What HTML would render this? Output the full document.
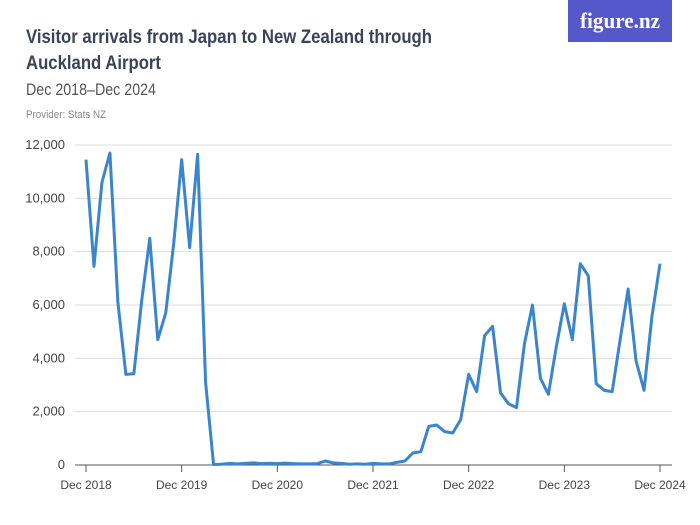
<!DOCTYPE html>
<html><head><meta charset="utf-8"><style>
html,body{margin:0;padding:0;background:#fff;}
svg{display:block;font-family:"Liberation Sans Narrow","Liberation Sans",sans-serif;}
</style></head><body>
<svg width="700" height="525" viewBox="0 0 700 525" xmlns="http://www.w3.org/2000/svg">
<rect x="568" y="0" width="104" height="42" fill="#5558c8"/>
<text x="620" y="28" text-anchor="middle" fill="#fff" font-family="Liberation Serif,serif" font-size="22" font-weight="bold" textLength="80" lengthAdjust="spacingAndGlyphs">figure.nz</text>
<text x="26" y="43" fill="#3a4459" font-size="19" font-weight="bold" textLength="406" lengthAdjust="spacingAndGlyphs">Visitor arrivals from Japan to New Zealand through</text>
<text x="26" y="69" fill="#3a4459" font-size="19" font-weight="bold" textLength="135" lengthAdjust="spacingAndGlyphs">Auckland Airport</text>
<text x="26" y="95" fill="#555" font-size="17" textLength="130" lengthAdjust="spacingAndGlyphs">Dec 2018–Dec 2024</text>
<text x="26" y="118" fill="#888" font-size="11" textLength="80" lengthAdjust="spacingAndGlyphs">Provider: Stats NZ</text>
<g id="grid"></g><g id="xaxis"></g>
<polyline id="line" fill="none" stroke="#3a85cc" stroke-width="3" stroke-linejoin="round"/>
</svg>
<script>
const yTicks=[0,2000,4000,6000,8000,10000,12000];
const yTickLabels=["0","2,000","4,000","6,000","8,000","10,000","12,000"];
const xTickMonths=[0,12,24,36,48,60,72];
const xTickLabels=["Dec 2018","Dec 2019","Dec 2020","Dec 2021","Dec 2022","Dec 2023","Dec 2024"];
const values=[11450,7450,10600,11700,6100,3400,3420,6200,8500,4700,5700,8300,
11450,8150,11650,3100,20,30,60,40,60,80,50,60,
50,70,50,40,40,50,150,80,60,30,40,30,
60,40,40,100,150,450,500,1450,1500,1250,1200,1700,
3400,2750,4850,5200,2700,2300,2150,4550,6000,3250,2650,4450,
6050,4700,7550,7100,3050,2800,2750,4700,6600,3900,2800,5600,7550];
const NS="http://www.w3.org/2000/svg";
const x=m=>86+m*(660-86)/72, y=v=>465-v*(320/12000);
const grid=document.getElementById('grid'), xa=document.getElementById('xaxis');
yTicks.forEach((t,i)=>{
 const l=document.createElementNS(NS,'line');
 l.setAttribute('x1',75);l.setAttribute('x2',672);l.setAttribute('y1',y(t));l.setAttribute('y2',y(t));
 l.setAttribute('stroke',t===0?'#555':'#ddd');l.setAttribute('stroke-width',1);
 
 
 grid.appendChild(l);
 const tx=document.createElementNS(NS,'text');
 tx.setAttribute('x',65);tx.setAttribute('y',y(t)+4);tx.setAttribute('text-anchor','end');
 tx.setAttribute('font-size','13');tx.setAttribute('fill','#444');tx.textContent=yTickLabels[i];
 
 
 grid.appendChild(tx);
});
xTickMonths.forEach((m,i)=>{
 const l=document.createElementNS(NS,'line');
 l.setAttribute('x1',x(m));l.setAttribute('x2',x(m));l.setAttribute('y1',465);l.setAttribute('y2',472);
 l.setAttribute('stroke','#555');
 
 
 xa.appendChild(l);
 const tx=document.createElementNS(NS,'text');
 tx.setAttribute('x',x(m));tx.setAttribute('y',489);tx.setAttribute('text-anchor','middle');
 tx.setAttribute('font-size','12');tx.setAttribute('fill','#444');tx.textContent=xTickLabels[i];
 
 
 xa.appendChild(tx);
});
document.getElementById('line').setAttribute('points',values.map((v,i)=>x(i)+','+y(v)).join(' '));
</script>
</body></html>
